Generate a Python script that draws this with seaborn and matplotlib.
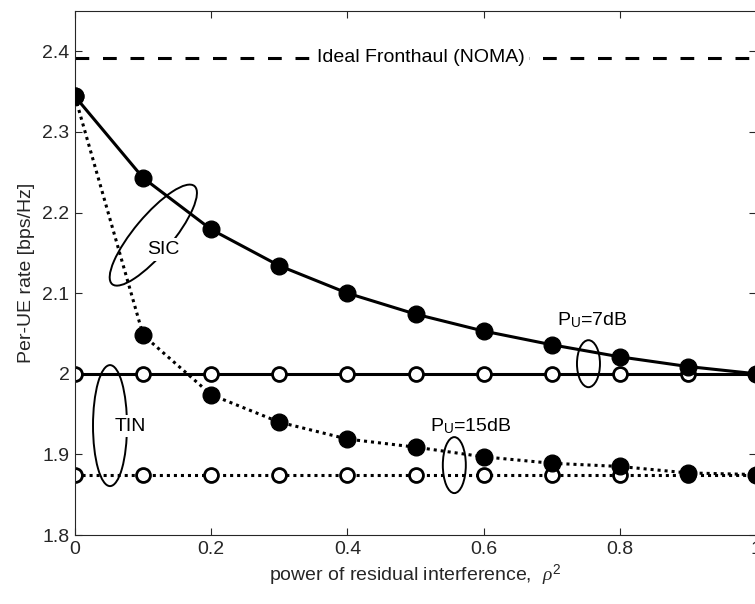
import numpy as np
import pandas as pd
import matplotlib
matplotlib.use("Agg")
import matplotlib.pyplot as plt
import matplotlib.transforms as mtransforms
from matplotlib.patches import Ellipse
import seaborn as sns

# ---- data ----
rho2 = [0.0, 0.1, 0.2, 0.3, 0.4, 0.5, 0.6, 0.7, 0.8, 0.9, 1.0]
sic_7db = [2.344, 2.243, 2.179, 2.134, 2.100, 2.074, 2.053, 2.036, 2.021, 2.009, 2.000]
tin_7db = [2.000, 2.000, 2.000, 2.000, 2.000, 2.000, 2.000, 2.000, 2.000, 2.000, 2.000]
sic_15db = [2.344, 2.048, 1.974, 1.940, 1.919, 1.909, 1.897, 1.889, 1.885, 1.877, 1.875]
tin_15db = [1.875, 1.875, 1.875, 1.875, 1.875, 1.875, 1.875, 1.875, 1.875, 1.875, 1.875]
ideal_noma = 2.3923
x_ticks = [0, 0.2, 0.4, 0.6, 0.8, 1]
x_ticklabels = ["0", "0.2", "0.4", "0.6", "0.8", "1"]
y_ticks = [1.8, 1.9, 2.0, 2.1, 2.2, 2.3, 2.4]
y_ticklabels = ["1.8", "1.9", "2", "2.1", "2.2", "2.3", "2.4"]

sns.set_theme(style="white")
plt.rcParams["font.family"] = ["Liberation Sans", "DejaVu Sans"]
plt.rcParams["mathtext.fontset"] = "custom"
plt.rcParams["mathtext.rm"] = "Liberation Sans"
plt.rcParams["mathtext.it"] = "Liberation Serif:italic"
plt.rcParams["mathtext.bf"] = "Liberation Sans:bold"

W, H = 755, 604
fig = plt.figure(figsize=(W / 100, H / 100), dpi=100)
ax = fig.add_axes([75 / W, (H - 535) / H, 681 / W, 524 / H])

df = pd.DataFrame({"rho2": rho2, "sic7": sic_7db, "tin7": tin_7db,
                   "sic15": sic_15db, "tin15": tin_15db})

lw = 2.2
# ideal fronthaul dashed line
ax.axhline(ideal_noma, color="black", lw=lw, dashes=(4.5, 4.5), zorder=1)

open_kw = dict(marker="o", markersize=10, markerfacecolor="white",
               markeredgecolor="black", markeredgewidth=2.0)
fill_kw = dict(marker="o", markersize=12, markerfacecolor="black",
               markeredgecolor="black", markeredgewidth=1.0)

sns.lineplot(data=df, x="rho2", y="tin7", ax=ax, color="black", lw=lw,
             zorder=2, **open_kw)
sns.lineplot(data=df, x="rho2", y="tin15", ax=ax, color="black", lw=lw,
             dashes=False, zorder=2, **open_kw)
ax.lines[-1].set_dashes((1.0, 1.3))
sns.lineplot(data=df, x="rho2", y="sic7", ax=ax, color="black", lw=lw,
             zorder=3, **fill_kw)
sns.lineplot(data=df, x="rho2", y="sic15", ax=ax, color="black", lw=lw,
             zorder=3, **fill_kw)
ax.lines[-1].set_dashes((1.0, 1.3))

ax.set_xlim(0, 1)
ax.set_ylim(1.8, 2.45)
ax.set_xticks(x_ticks)
ax.set_xticklabels(x_ticklabels)
ax.set_yticks(y_ticks)
ax.set_yticklabels(y_ticklabels)

axc = "#262626"
for s in ax.spines.values():
    s.set_color(axc)
    s.set_linewidth(0.8)
    s.set_visible(True)
ax.tick_params(direction="in", length=5, width=0.8, color=axc,
               labelcolor=axc, labelsize=14, top=True, right=True,
               bottom=True, left=True, pad=4)

ax.set_xlabel(r"power of residual interference,  $\rho^{\mathrm{2}}$",
              fontsize=14, color=axc)
ax.set_ylabel("Per-UE rate [bps/Hz]", fontsize=14, color=axc)
ax.yaxis.set_label_coords(-0.059, 0.5)

# annotations
txt_kw = dict(fontsize=14, color="black", ha="center", va="center", zorder=6)
ax.text(0.508, ideal_noma, "Ideal Fronthaul (NOMA)",
        bbox=dict(facecolor="white", edgecolor="none", pad=3), **txt_kw)


def px_ellipse(cx, cy, w, h, angle):
    tr = mtransforms.Affine2D() + mtransforms.ScaledTranslation(cx, cy, ax.transData)
    e = Ellipse((0, 0), w, h, angle=angle, fill=False, edgecolor="black",
                lw=1.4, transform=tr, zorder=5)
    ax.add_patch(e)


px_ellipse(0.115, 2.172, 128, 38, 50)
px_ellipse(0.0514, 1.9357, 34, 121, 0)
px_ellipse(0.754, 2.0125, 23, 47, 0)
px_ellipse(0.557, 1.8867, 23, 56, 0)

ax.text(0.129, 2.154, "SIC",
        bbox=dict(facecolor="white", edgecolor="none", pad=2), **txt_kw)
ax.text(0.081, 1.935, "TIN",
        bbox=dict(facecolor="white", edgecolor="none", pad=2), **txt_kw)
ax.text(0.759, 2.066, r"P$_{\mathrm{U}}$=7dB", **txt_kw)
ax.text(0.581, 1.935, r"P$_{\mathrm{U}}$=15dB", **txt_kw)

fig.savefig("out.png", dpi=100)
